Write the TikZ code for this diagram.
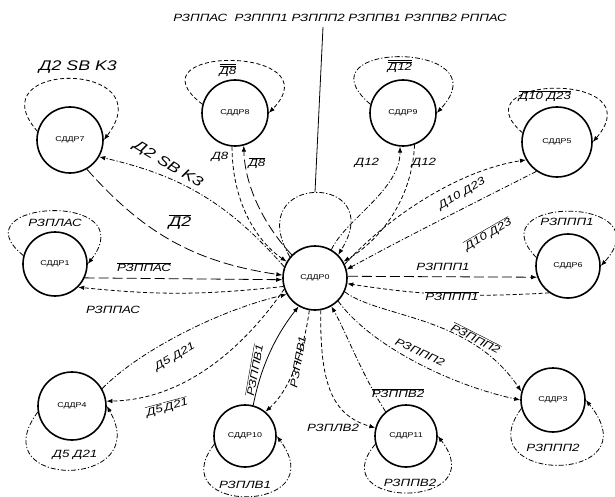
\documentclass[tikz,border=0pt]{standalone}
\usepackage{fontspec}
\setmainfont{Liberation Sans}
\newfontfamily\labfont[FakeStretch=1.27]{Liberation Sans}
\usetikzlibrary{arrows.meta}
% overlined condition names
\newcommand{\olbar}[1]{$\overline{\mbox{#1}}$}
\newcommand{\oolbar}[1]{$\overline{\overline{\mbox{#1}}}$}

\begin{document}
\begin{tikzpicture}[x=1pt,y=1pt,
  state/.style={circle,draw,line width=1.6pt,minimum size=64pt,inner sep=0pt,
    font=\labfont\fontsize{7}{8}\selectfont},
  lbl/.style={font=\labfont\itshape\fontsize{10.5}{12}\selectfont,inner sep=1pt},
  biglbl/.style={font=\labfont\itshape\fontsize{14}{16}\selectfont,inner sep=1pt},
  conn/.style={line width=0.8pt,-{Latex[length=6pt,width=4.5pt]}},
  ld/.style={conn,dash pattern=on 10pt off 4pt},
  dd/.style={conn,dash pattern=on 5pt off 2pt on 1.2pt off 2pt},
  ds/.style={conn,dash pattern=on 4pt off 2.5pt},
  sl/.style={conn},
]
\useasboundingbox (0,0) rectangle (615,-497);

% states
\node[state] (C) at (315,-278) {СДДР0};
\node[state,minimum size=66pt] (TL) at (70,-140) {СДДР7};
\node[state] (L) at (55,-264) {СДДР1};
\node[state,minimum size=66pt] (T8) at (235,-113) {СДДР8};
\node[state,minimum size=66pt] (T12) at (403,-113) {СДДР9};
\node[state,minimum size=70pt] (TR) at (557,-142) {СДДР5};
\node[state] (R) at (568,-266) {СДДР6};
\node[state] (BR) at (553,-400) {СДДР3};
\node[state,minimum size=62pt] (BMR) at (406,-436) {СДДР11};
\node[state,minimum size=62pt] (BML) at (245,-436) {СДДР10};
\node[state,minimum size=68pt] (BL) at (72,-406) {СДДР4};

% self loops
\draw[ds] (TL.165) .. controls (-25,-60) and (165,-60) .. (TL.east);
\node[biglbl] (lTL) at (78,-67) {Д2 SB K3};
\draw[ds] (T8.165) .. controls (125,-45) and (335,-45) .. (T8.east);
\node[lbl] (lT8) at (228,-70) {\oolbar{Д8}};
\draw[dd] (T12.165) .. controls (295,-40) and (505,-40) .. (T12.east);
\node[lbl] (lT12) at (400,-66) {\oolbar{Д12}};
\draw[ds] (TR.165) .. controls (455,-75) and (655,-70) .. (TR.east);
\node[lbl] (lTR) at (545,-96) {\olbar{Д10 Д23}};
\draw[dd] (L.165) .. controls (-45,-200) and (145,-190) .. (L.east);
\node[lbl] (lL) at (55,-223) {РЗПЛАС};
\draw[dd] (R.165) .. controls (475,-195) and (665,-195) .. (R.east);
\node[lbl] (lR) at (567,-222) {РЗППП1};
\draw[dd] (BR.195) .. controls (465,-485) and (655,-485) .. (BR.east);
\node[lbl] (lBR) at (553,-448) {РЗППП2};
\draw[dd] (BMR.195) .. controls (320,-510) and (495,-510) .. (BMR.east);
\node[lbl] (lBMR) at (410,-483) {РЗППВ2};
\draw[dd] (BML.195) .. controls (160,-515) and (335,-515) .. (BML.east);
\node[lbl] (lBML) at (245,-485) {РЗПЛВ1};
\draw[dd] (BL.190) .. controls (-20,-490) and (155,-490) .. (BL.east);
\node[lbl] (lBL) at (75,-455) {Д5 Д21};

% loop of the central state and its condition list
\draw[dd] (C.140) .. controls (240,-172) and (390,-172) .. (C.45);
\coordinate (Ctop) at (315,-192);
\node[lbl] (sig) at (340,-18) {РЗППАС\ \ РЗППП1 РЗППП2 РЗППВ1 РЗППВ2 РППАС};
\coordinate (pin) at (323,-27);
\draw[line width=0.8pt] (pin) -- (Ctop);

% C -- TL
\draw[dd] (C.160) to[bend right=18] (TL.-30);
\node[biglbl,rotate=-31] (eTL1) at (168,-165) {Д2 SB K3};
\draw[ld] (TL.-60) to[bend right=20] (C.175);
\node[biglbl] (eTL2) at (180,-222) {\olbar{Д2}};

% C -- L
\draw[ld] (L.-25) -- (C.183);
\node[lbl] (eL1) at (144,-267) {\olbar{РЗППАС}};
\draw[ds] (C.195) to[bend left=6] (L.-45);
\node[lbl] (eL2) at (113,-310) {РЗППАС};

% C -- T8
\draw[ds] (T8.-95) .. controls (232,-200) and (255,-240) .. (C.150);
\node[lbl] (eT8a) at (220,-157) {Д8};
\draw[ld] (C.135) .. controls (268,-230) and (245,-190) .. (T8.-75);
\node[lbl] (eT8b) at (257,-163) {\olbar{Д8}};

% C -- T12
\draw[dd] (C.60) .. controls (345,-220) and (400,-190) .. (T12.-95);
\node[lbl] (eT12a) at (367,-163) {Д12};
\draw[ds] (T12.-70) .. controls (412,-200) and (380,-240) .. (C.30);
\node[lbl] (eT12b) at (424,-163) {Д12};

% C -- TR
\draw[ds] (C.25) .. controls (390,-215) and (460,-170) .. (TR.210);
\node[lbl,rotate=30] (eTR1) at (462,-194) {Д10 Д23};
\draw[dd] (TR.235) .. controls (480,-200) and (400,-240) .. (C.15);
\node[lbl,rotate=30] (eTR2) at (488,-234) {\olbar{Д10 Д23}};

% C -- R
\draw[ld] (C.3) -- (R.200);
\node[lbl] (eR1) at (443,-267) {РЗППП1};
\draw[ds] (R.235) to[bend left=6] (C.-10);
\node[lbl,fill=white] (eR2) at (452,-296) {\olbar{РЗППП1}};

% C -- BR
\draw[dd] (C.-25) .. controls (380,-318) and (470,-315) .. (BR.165);
\node[lbl,rotate=-27] (eBR1) at (476,-338) {\olbar{РЗППП2}};
\draw[dd] (C.-45) .. controls (370,-345) and (450,-385) .. (BR.180);
\node[lbl,rotate=-25] (eBR2) at (420,-352) {РЗППП2};

% C -- BMR
\draw[ds] (C.-80) .. controls (320,-380) and (330,-415) .. (BMR.165);
\node[lbl] (eBMR1) at (333,-428) {РЗПЛВ2};
\draw[dd] (BMR.130) .. controls (362,-375) and (345,-330) .. (C.-60);
\node[lbl] (eBMR2) at (398,-393) {\olbar{РЗППВ2}};

% C -- BML
\draw[ds] (C.-100) .. controls (304,-350) and (290,-390) .. (BML.50);
\node[lbl,rotate=80] (eBML1) at (298,-362) {РЗППВ1};
\draw[sl] (BML.75) .. controls (262,-360) and (280,-330) .. (C.-120);
\node[lbl,rotate=80] (eBML2) at (254,-370) {\olbar{РЗППВ1}};

% C -- BL
\draw[dd] (BL.30) .. controls (140,-350) and (220,-310) .. (C.-150);
\node[lbl,rotate=30] (eBL1) at (175,-357) {Д5 Д21};
\draw[ds] (C.-160) .. controls (235,-360) and (175,-400) .. (BL.8);
\node[lbl,rotate=15] (eBL2) at (167,-407) {\olbar{Д5}\,\olbar{Д21}};
\end{tikzpicture}
\end{document}
